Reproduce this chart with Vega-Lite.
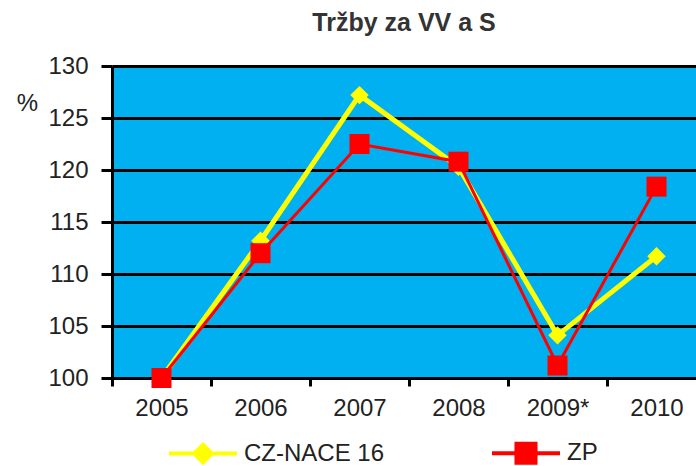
{
  "$schema": "https://vega.github.io/schema/vega-lite/v6.json",
  "autosize": "none",
  "width": 594,
  "height": 312,
  "padding": {"left": 112, "top": 66, "right": 0, "bottom": 88},
  "background": "white",
  "title": {
    "text": "Tržby za VV a S",
    "font": "Liberation Sans",
    "fontSize": 25,
    "fontWeight": "bold",
    "color": "#333333",
    "anchor": "middle",
    "offset": 18,
    "dx": -5
  },
  "config": {
    "view": {"fill": "#00B0F0", "stroke": null},
    "font": "Liberation Sans"
  },
  "data": {
    "values": [
      {"year": "2005", "series": "CZ-NACE 16", "value": 100},
      {"year": "2006", "series": "CZ-NACE 16", "value": 113.2},
      {"year": "2007", "series": "CZ-NACE 16", "value": 127.2},
      {"year": "2008", "series": "CZ-NACE 16", "value": 120.3},
      {"year": "2009*", "series": "CZ-NACE 16", "value": 104.1},
      {"year": "2010", "series": "CZ-NACE 16", "value": 111.7},
      {"year": "2005", "series": "ZP", "value": 100},
      {"year": "2006", "series": "ZP", "value": 112.0},
      {"year": "2007", "series": "ZP", "value": 122.5},
      {"year": "2008", "series": "ZP", "value": 120.8},
      {"year": "2009*", "series": "ZP", "value": 101.2},
      {"year": "2010", "series": "ZP", "value": 118.4}
    ]
  },
  "encoding": {
    "x": {
      "field": "year",
      "type": "ordinal",
      "sort": null,
      "scale": {"paddingInner": 0, "paddingOuter": 0},
      "axis": {
        "title": null,
        "labelAngle": 0,
        "labelFontSize": 24,
        "labelColor": "#222222",
        "labelPadding": 10,
        "tickBand": "extent",
        "tickSize": 8,
        "tickWidth": 3,
        "tickColor": "black",
        "domainColor": "black",
        "domainWidth": 3,
        "grid": false
      }
    },
    "y": {
      "field": "value",
      "type": "quantitative",
      "scale": {"domain": [100, 130], "nice": false, "zero": false},
      "axis": {
        "values": [100, 105, 110, 115, 120, 125, 130],
        "title": "%",
        "titleAngle": 0,
        "titleX": -85,
        "titleY": 37,
        "titleAlign": "center",
        "titleBaseline": "middle",
        "titleFontSize": 24,
        "titleFontWeight": "normal",
        "titleColor": "#222222",
        "labelFontSize": 24,
        "labelColor": "#222222",
        "labelPadding": 13,
        "tickSize": 11,
        "tickWidth": 3,
        "tickColor": "black",
        "domainColor": "black",
        "domainWidth": 3,
        "grid": true,
        "gridColor": "black",
        "gridWidth": 3,
        "gridOpacity": 1
      }
    },
    "color": {
      "field": "series",
      "type": "nominal",
      "scale": {"domain": ["CZ-NACE 16", "ZP"], "range": ["#FFFF00", "#FF0000"]},
      "legend": {
        "title": null,
        "orient": "none",
        "direction": "horizontal",
        "legendX": 55,
        "legendY": 351,
        "labelFontSize": 24,
        "labelColor": "#222222",
        "labelOffset": 5,
        "symbolSize": 4624,
        "columnPadding": 99,
        "encode": {
          "symbols": {
            "update": {
              "shape": {"signal": "datum.value === 'ZP' ? 'M-1,0L1,0M-0.28,-0.28L0.28,-0.28L0.28,0.28L-0.28,0.28Z' : 'M-1,0L1,0M0,-0.26L0.26,0L0,0.26L-0.26,0Z'"},
              "fill": {"signal": "datum.value === 'ZP' ? '#FF0000' : '#FFFF00'"},
              "stroke": {"signal": "datum.value === 'ZP' ? '#FF0000' : '#FFFF00'"},
              "strokeWidth": {"value": 4},
              "opacity": {"value": 1},
              "fillOpacity": {"value": 1}
            }
          }
        }
      }
    }
  },
  "layer": [
    {
      "transform": [{"filter": "datum.series === 'CZ-NACE 16'"}],
      "mark": {"type": "line", "strokeWidth": 5}
    },
    {
      "transform": [{"filter": "datum.series === 'CZ-NACE 16'"}],
      "mark": {"type": "point", "filled": true, "opacity": 1, "shape": "diamond", "size": 340}
    },
    {
      "transform": [{"filter": "datum.series === 'ZP'"}],
      "mark": {"type": "line", "strokeWidth": 3}
    },
    {
      "transform": [{"filter": "datum.series === 'ZP'"}],
      "mark": {"type": "point", "filled": true, "opacity": 1, "shape": "square", "size": 400}
    }
  ]
}
